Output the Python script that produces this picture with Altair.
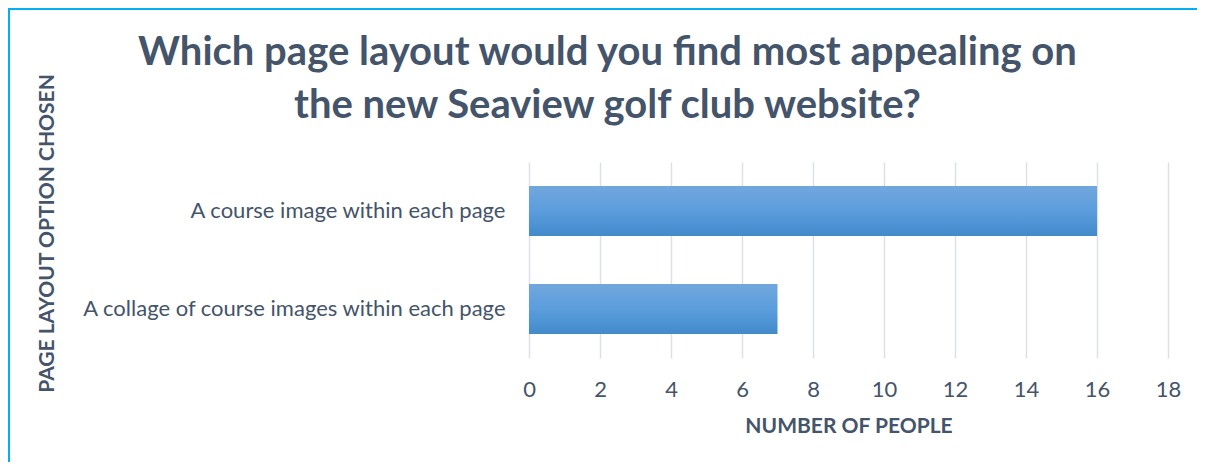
import altair as alt
import pandas as pd

categories = ["A course image within each page", "A collage of course images within each page"]
values = [16, 7]
x_ticks = [0, 2, 4, 6, 8, 10, 12, 14, 16, 18]

df = pd.DataFrame({"option": categories, "people": values})

TEXT = "#44546A"
FONT = "Lato"

bars = alt.Chart(df).mark_bar(
    color=alt.Gradient(
        gradient="linear",
        stops=[alt.GradientStop(color="#72A7DD", offset=0),
               alt.GradientStop(color="#5B9DDD", offset=0.5),
               alt.GradientStop(color="#428ACA", offset=1)],
        x1=0, x2=0, y1=0, y2=1,
    )
).encode(
    x=alt.X("people:Q", scale=alt.Scale(domain=[0, 18], nice=False),
            axis=alt.Axis(values=x_ticks, title="NUMBER OF PEOPLE", grid=True,
                          gridColor="#DDE1E7", gridWidth=1.5, domain=False, ticks=False,
                          labelFlush=False,
                          labelFontSize=22, labelColor=TEXT, labelFont=FONT, labelPadding=21,
                          titleFontSize=21, titleFont=FONT, titleFontWeight="bold",
                          titleColor=TEXT, titlePadding=15)),
    y=alt.Y("option:N", sort=categories,
            scale=alt.Scale(paddingInner=0.49, paddingOuter=0.245),
            axis=alt.Axis(title="PAGE LAYOUT OPTION CHOSEN", domain=False, ticks=False,
                          grid=False,
                          labelFontSize=22, labelColor=TEXT, labelFont=FONT, labelPadding=24,
                          labelLimit=500,
                          titleFontSize=21, titleFont=FONT, titleFontWeight="bold",
                          titleColor=TEXT, titleX=-482, titleY=71, titleAngle=270,
                          titleAlign="center", titleBaseline="middle")),
)

border = alt.Chart(df).mark_rect(fill=None, stroke="#00B0F0", strokeWidth=2, clip=False).encode(
    x=alt.value(-520), x2=alt.value(720), y=alt.value(-153), y2=alt.value(400)
)

chart = alt.layer(bars, border).properties(
    width=639, height=196,
    padding={"left": 521, "top": 154, "right": 29, "bottom": 104},
    autosize=alt.AutoSizeParams(type="none"),
    background="white",
    title=alt.TitleParams(
        ["Which page layout would you find most appealing on", "the new Seaview golf club website?"],
        anchor="middle", dx=-241, dy=158, offset=40, fontSize=40, font=FONT, fontWeight="bold",
        color=TEXT, lineHeight=53,
    ),
).configure_view(stroke=None)

chart.save("out.html", embed_options={"renderer": "svg", "actions": False})
